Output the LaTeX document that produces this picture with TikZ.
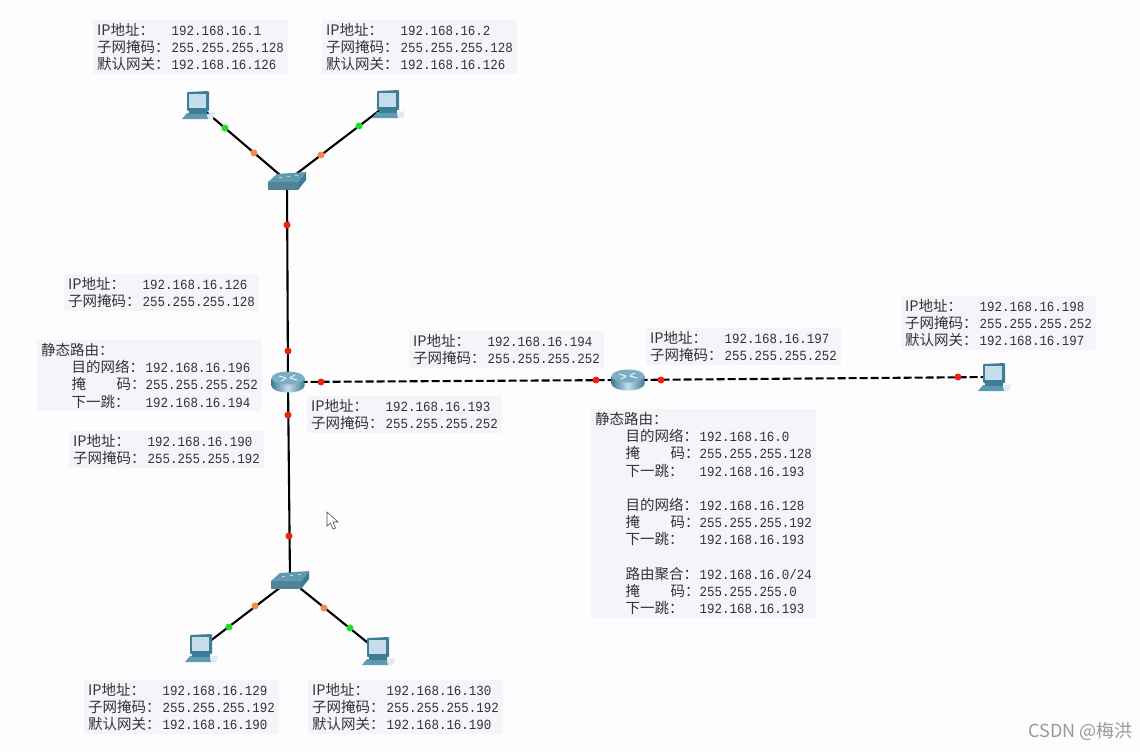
\documentclass[tikz,border=0pt]{standalone}
\usepackage{fontspec}
\usepackage{xcolor}
\usepackage{tikz}
\usetikzlibrary{positioning, calc}
\setmainfont[FakeStretch=0.89]{Liberation Mono}
\newfontfamily\cjk{Noto Sans CJK SC}
\definecolor{netbox}{HTML}{F3F5FA}
\definecolor{nettext}{HTML}{333333}
\definecolor{netpage}{HTML}{FDFDFE}
\definecolor{netred}{HTML}{EE2211}
\definecolor{netgreen}{HTML}{22DD22}
\definecolor{netorange}{HTML}{F58A4B}
\definecolor{devdark}{HTML}{3F7D96}
\definecolor{devmid}{HTML}{5F9AB2}
\definecolor{devlight}{HTML}{C5DCEA}
\newcommand{\cn}[1]{{\cjk\fontsize{14.5}{17.2}\selectfont #1}}
\newcommand{\iprow}[2]{\makebox[74.5pt][l]{\cn{#1}}#2}
\newcommand{\yanma}{\makebox[45pt][l]{\cn{掩}}\cn{码：}}
\newcommand{\routerow}[2]{\hspace*{30.5pt}\makebox[74pt][l]{#1}#2}
\begin{document}
\begin{tikzpicture}[
  x=1pt, y=-1pt,
  infobox/.style={
    rectangle, fill=netbox, anchor=north west, align=left,
    inner xsep=4pt, inner ysep=3pt, text=nettext,
    font=\fontsize{14}{17.2}\selectfont
  },
  devnode/.style={circle, inner sep=0pt, minimum size=1pt},
  portdot/.style={circle, fill=#1, inner sep=0pt, minimum size=7pt},
  wire/.style={draw=black, line width=2.1pt},
  wan/.style={wire, dash pattern=on 8pt off 3pt},
  pcicon/.pic={
    \fill[devmid] (-16,14) -- (-11,8) -- (9,8) -- (10,14) -- cycle;
    \fill[devdark] (-9,5) -- (9,5) -- (9,9) -- (-9,9) -- cycle;
    \fill[devlight!60!white] (9,9) -- (17,7) -- (15,14) -- (10,14) -- cycle;
    \fill[devdark, rounded corners=1pt] (-11,-13) -- (11,-14) -- (11,6) -- (-11,6) -- cycle;
    \fill[devlight] (-9.5,-11) -- (8,-11) -- (8,3) -- (-9.5,3) -- cycle;
  },
  switchicon/.pic={
    \fill[devmid!85!black] (-19,1) -- (11,1) -- (11,9) -- (-19,9) -- cycle;
    \fill[devdark] (11,1) -- (19,-9) -- (19,-1) -- (11,9) -- cycle;
    \fill[devmid] (-19,1) -- (-10,-7) -- (19,-9) -- (11,1) -- cycle;
    \draw[white, opacity=.6, line width=.5pt] (-8,-4) -- (-5,-4) (0,-5) -- (3,-5) (8,-6) -- (11,-6);
  },
  routericon/.pic={
    \shade[left color=devdark, right color=devdark, middle color=devlight]
      (-16.5,-4) -- (-16.5,4) arc[start angle=180, end angle=0, x radius=16.5, y radius=6.5]
      -- (16.5,-4) -- cycle;
    \fill[devmid!70!devlight] (0,-4) ellipse[x radius=16.5, y radius=6.5];
    \draw[white, line width=.8pt] (-9,-6) -- (-2,-4) (2,-4) -- (9,-2) (-7,-1) -- (-2,-3.5) (2,-4.5) -- (7,-7);
  },
]

\useasboundingbox (0,0) rectangle (1140,752);
\fill[netpage] (0,0) rectangle (1140,752);

% Devices
\node[devnode] (pca) at (198,105) {};
\node[devnode] (pcb) at (388,104) {};
\node[devnode] (pcc) at (201,648) {};
\node[devnode] (pcd) at (378,651) {};
\node[devnode] (pce) at (994,377) {};
\node[devnode] (swa) at (287,181) {};
\node[devnode] (swb) at (290,580) {};
\node[devnode] (rta) at (288,382) {};
\node[devnode] (rtb) at (628,380) {};

% Links
\draw[wire] (pca) -- (swa);
\draw[wire] (pcb) -- (swa);
\draw[wire] (swa) -- (rta);
\draw[wire] (rta) -- (swb);
\draw[wire] (swb) -- (pcc);
\draw[wire] (swb) -- (pcd);
\draw[wan] (rta) -- (rtb);
\draw[wan] (rtb) -- (pce);

% Port lights
\node[portdot=netgreen] (ga) at (225,128) {};
\node[portdot=netorange] (oa) at (254,153) {};
\node[portdot=netgreen] (gb) at (359,126) {};
\node[portdot=netorange] (ob) at (321,155) {};
\node[portdot=netred] (ra) at (287,225) {};
\node[portdot=netred] (rb) at (288,351) {};
\node[portdot=netred] (rc) at (288,415) {};
\node[portdot=netred] (rd) at (289,536) {};
\node[portdot=netorange] (oc) at (255,606) {};
\node[portdot=netgreen] (gc) at (229,627) {};
\node[portdot=netorange] (od) at (324,608) {};
\node[portdot=netgreen] (gd) at (350,628) {};
\node[portdot=netred] (re) at (321,382) {};
\node[portdot=netred] (rf) at (596,380) {};
\node[portdot=netred] (rg) at (661,380) {};
\node[portdot=netred] (rh) at (958,377) {};

% Icons
\pic at (pca) {pcicon};
\pic at (pcb) {pcicon};
\pic at (pcc) {pcicon};
\pic at (pcd) {pcicon};
\pic at (pce) {pcicon};
\pic at (swa) {switchicon};
\pic at (swb) {switchicon};
\pic at (rta) {routericon};
\pic at (rtb) {routericon};

% Address boxes
\node[infobox] (lana) at (93,20) {
  \iprow{IP地址：}{192.168.16.1}\\
  \iprow{子网掩码：}{255.255.255.128}\\
  \iprow{默认网关：}{192.168.16.126}
};
\node[infobox] (lanb) at (322,20) {
  \iprow{IP地址：}{192.168.16.2}\\
  \iprow{子网掩码：}{255.255.255.128}\\
  \iprow{默认网关：}{192.168.16.126}
};
\node[infobox] (gwa) at (64,274) {
  \iprow{IP地址：}{192.168.16.126}\\
  \iprow{子网掩码：}{255.255.255.128}
};
\node[infobox] (rtaroute) at (37,340) {
  \cn{静态路由：}\\
  \routerow{\cn{目的网络：}}{192.168.16.196}\\
  \routerow{\yanma}{255.255.255.252}\\
  \routerow{\cn{下一跳：}}{192.168.16.194}
};
\node[infobox] (gwb) at (69,431) {
  \iprow{IP地址：}{192.168.16.190}\\
  \iprow{子网掩码：}{255.255.255.192}
};
\node[infobox] (wana) at (307,396) {
  \iprow{IP地址：}{192.168.16.193}\\
  \iprow{子网掩码：}{255.255.255.252}
};
\node[infobox] (wanb) at (409,331) {
  \iprow{IP地址：}{192.168.16.194}\\
  \iprow{子网掩码：}{255.255.255.252}
};
\node[infobox] (wanc) at (646,328) {
  \iprow{IP地址：}{192.168.16.197}\\
  \iprow{子网掩码：}{255.255.255.252}
};
\node[infobox] (lane) at (901,296) {
  \iprow{IP地址：}{192.168.16.198}\\
  \iprow{子网掩码：}{255.255.255.252}\\
  \iprow{默认网关：}{192.168.16.197}
};
\node[infobox] (rtbroute) at (591,409) {
  \cn{静态路由：}\\
  \routerow{\cn{目的网络：}}{192.168.16.0}\\
  \routerow{\yanma}{255.255.255.128}\\
  \routerow{\cn{下一跳：}}{192.168.16.193}\\
  \mbox{}\\
  \routerow{\cn{目的网络：}}{192.168.16.128}\\
  \routerow{\yanma}{255.255.255.192}\\
  \routerow{\cn{下一跳：}}{192.168.16.193}\\
  \mbox{}\\
  \routerow{\cn{路由聚合：}}{192.168.16.0/24}\\
  \routerow{\yanma}{255.255.255.0}\\
  \routerow{\cn{下一跳：}}{192.168.16.193}
};
\node[infobox] (lanc) at (84,680) {
  \iprow{IP地址：}{192.168.16.129}\\
  \iprow{子网掩码：}{255.255.255.192}\\
  \iprow{默认网关：}{192.168.16.190}
};
\node[infobox] (land) at (308,680) {
  \iprow{IP地址：}{192.168.16.130}\\
  \iprow{子网掩码：}{255.255.255.192}\\
  \iprow{默认网关：}{192.168.16.190}
};

% Pointer and watermark
\draw[fill=white, draw=black!70, line width=.6pt]
  (327,512) -- (327,526) -- (330.5,523) -- (333,529) -- (335.5,528) -- (333,522) -- (338,522) -- cycle;
\node[anchor=east, text=black!40, inner sep=0pt] (mark) at (1133,731)
  {\cjk\fontsize{18}{20}\selectfont CSDN @梅洪};

\end{tikzpicture}
\end{document}
